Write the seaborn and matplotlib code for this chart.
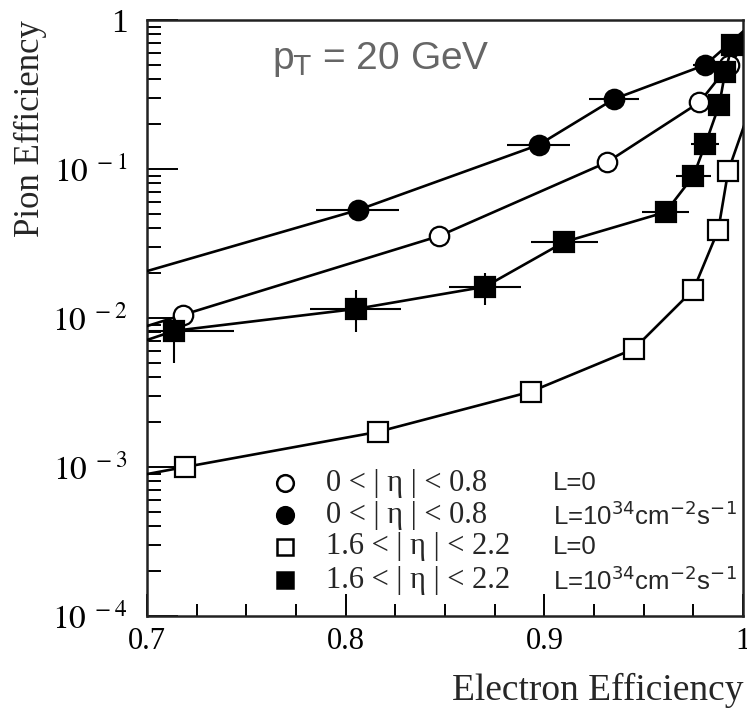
import numpy as np
import pandas as pd
import matplotlib
matplotlib.use("Agg")
import matplotlib.pyplot as plt
import seaborn as sns
from matplotlib.ticker import FixedLocator, FixedFormatter, NullFormatter

# ---------------- data ----------------
# filled circles: 0<|eta|<0.8, L=1e34  (first/last points lie outside the frame)
fc_x = [0.680, 0.806, 0.897, 0.935, 0.981, 1.010]
fc_y = [0.0173, 0.053, 0.145, 0.295, 0.50, 1.10]
fc_xerr = [0.0, 0.021, 0.016, 0.0125, 0.006, 0.0]

# open circles: 0<|eta|<0.8, L=0
oc_x = [0.680, 0.718, 0.847, 0.9315, 0.978, 0.993, 1.010]
oc_y = [0.0073, 0.0105, 0.0355, 0.111, 0.28, 0.50, 1.00]

# filled squares: 1.6<|eta|<2.2, L=1e34
fs_x = [0.680, 0.7136, 0.805, 0.870, 0.910, 0.961, 0.975, 0.981, 0.988, 0.991, 0.9945, 1.010]
fs_y = [0.0058, 0.0082, 0.0115, 0.0162, 0.0324, 0.0514, 0.090, 0.147, 0.27, 0.45, 0.68, 1.10]
fs_xerr = [0.0, 0.030, 0.023, 0.018, 0.017, 0.012, 0.009, 0.007, 0.005, 0.004, 0.003, 0.0]
fs_ylo = [0.0, 0.0032, 0.0035, 0.0040, 0.0040, 0.0050, 0.010, 0.015, 0.02, 0.03, 0.04, 0.0]
fs_yhi = [0.0, 0.0023, 0.0040, 0.0040, 0.0040, 0.0050, 0.010, 0.015, 0.02, 0.03, 0.04, 0.0]

# open squares: 1.6<|eta|<2.2, L=0
os_x = [0.680, 0.719, 0.816, 0.893, 0.945, 0.975, 0.9875, 0.9925, 1.010]
os_y = [0.00080, 0.00100, 0.00172, 0.0032, 0.0062, 0.0155, 0.039, 0.097, 0.45]
os_yerr = [0.0, 0.00015, 0.00020, 0.0003, 0.0005, 0.0012, 0.003, 0.008, 0.0]

legend_eta = ["0 < | η | < 0.8", "0 < | η | < 0.8", "1.6 < | η | < 2.2", "1.6 < | η | < 2.2"]
legend_lum = ["L=0", r"L=10$^{34}$cm$^{-2}$s$^{-1}$", "L=0", r"L=10$^{34}$cm$^{-2}$s$^{-1}$"]
x_ticks = [0.7, 0.8, 0.9, 1.0]
x_ticklabels = ["0.7", "0.8", "0.9", "1"]
y_ticks = [1e-4, 1e-3, 1e-2, 1e-1, 1]
y_ticklabels = [r"$10^{\ -4}$", r"$10^{\ -3}$", r"$10^{\ -2}$", r"$10^{\ -1}$", "1"]

# ---------------- style ----------------
sns.set_theme(style="ticks")
plt.rcParams["font.family"] = ["Liberation Serif", "DejaVu Serif"]
plt.rcParams["mathtext.fontset"] = "stix"

fig = plt.figure(figsize=(7.47, 7.12), dpi=100)
ax = fig.add_axes([0.197, 0.1348, 0.7978, 0.8371])

LW = 1.9
MS = 14

def series(x, y, marker, face):
    df = pd.DataFrame({"x": x, "y": y})
    sns.lineplot(data=df, x="x", y="y", ax=ax, sort=False, estimator=None,
                 color="black", linewidth=LW, marker=marker, markersize=MS,
                 markerfacecolor=face, markeredgecolor="black",
                 markeredgewidth=1.6, zorder=3, legend=False)

# error bars
ax.errorbar(fc_x, fc_y, xerr=fc_xerr, fmt="none", ecolor="black", elinewidth=1.5, capsize=0, zorder=2)
ax.errorbar(fs_x, fs_y, xerr=fs_xerr, yerr=[fs_ylo, fs_yhi], fmt="none", ecolor="black",
            elinewidth=1.5, capsize=0, zorder=2)
ax.errorbar(os_x, os_y, yerr=os_yerr, fmt="none", ecolor="black", elinewidth=1.3, capsize=0, zorder=2)

series(oc_x, oc_y, "o", "white")
series(fc_x, fc_y, "o", "black")
series(os_x, os_y, "s", "white")
series(fs_x, fs_y, "s", "black")

ax.set_xscale("linear")
ax.set_yscale("log")
ax.set_xlim(0.7, 1.0)
ax.set_ylim(1e-4, 1)

# ticks
ax.xaxis.set_major_locator(FixedLocator(x_ticks))
ax.xaxis.set_major_formatter(FixedFormatter(x_ticklabels))
ax.xaxis.set_minor_locator(FixedLocator(np.arange(0.725, 1.0, 0.025)))
ax.yaxis.set_major_locator(FixedLocator(y_ticks))
ax.yaxis.set_major_formatter(FixedFormatter(y_ticklabels))
minor_y = [m * 10.0 ** e for e in range(-4, 0) for m in range(2, 10)]
ax.yaxis.set_minor_locator(FixedLocator(minor_y))
ax.yaxis.set_minor_formatter(NullFormatter())

ax.tick_params(axis="both", which="both", direction="in", top=False, right=False,
               colors="black", width=1.4)
ax.tick_params(axis="x", which="major", length=16, pad=8, labelsize=22)
ax.tick_params(axis="x", which="minor", length=9)
ax.tick_params(axis="y", which="major", length=22, pad=14, labelsize=24)
ax.tick_params(axis="y", which="minor", length=10)
for lab in ax.get_yticklabels():
    lab.set_math_fontfamily("stix")

for s in ax.spines.values():
    s.set_linewidth(1.8)
    s.set_color("#222222")

ax.set_xlabel("Electron Efficiency", fontsize=27, loc="right", labelpad=12)
ax.set_ylabel("Pion Efficiency", fontsize=25, loc="top", labelpad=4)

# annotation
ax.text(0.21, 0.933, r"p$_\mathrm{T}$ = 20 GeV", transform=ax.transAxes, fontsize=28,
        family=["Liberation Sans", "DejaVu Sans"], color="#666666", va="center", ha="left",
        math_fontfamily="dejavusans")

# legend (manual, two text columns)
rows = [0.223, 0.169, 0.116, 0.060]
styles = [("o", "white"), ("o", "black"), ("s", "white"), ("s", "black")]
for yy, (mk, fcol), t1, t2 in zip(rows, styles, legend_eta, legend_lum):
    ax.plot([0.232], [yy], marker=mk, markersize=12, markerfacecolor=fcol,
            markeredgecolor="black", markeredgewidth=1.8, transform=ax.transAxes,
            linestyle="none", zorder=4)
    ax.text(0.300, yy, t1, transform=ax.transAxes, fontsize=22, va="center", ha="left",
            family=["Liberation Serif", "DejaVu Serif"])
    ax.text(0.681, yy, t2, transform=ax.transAxes, fontsize=18.5, va="center", ha="left",
            family=["Liberation Sans", "DejaVu Sans"], math_fontfamily="dejavusans")

fig.savefig("out.png", dpi=100)
